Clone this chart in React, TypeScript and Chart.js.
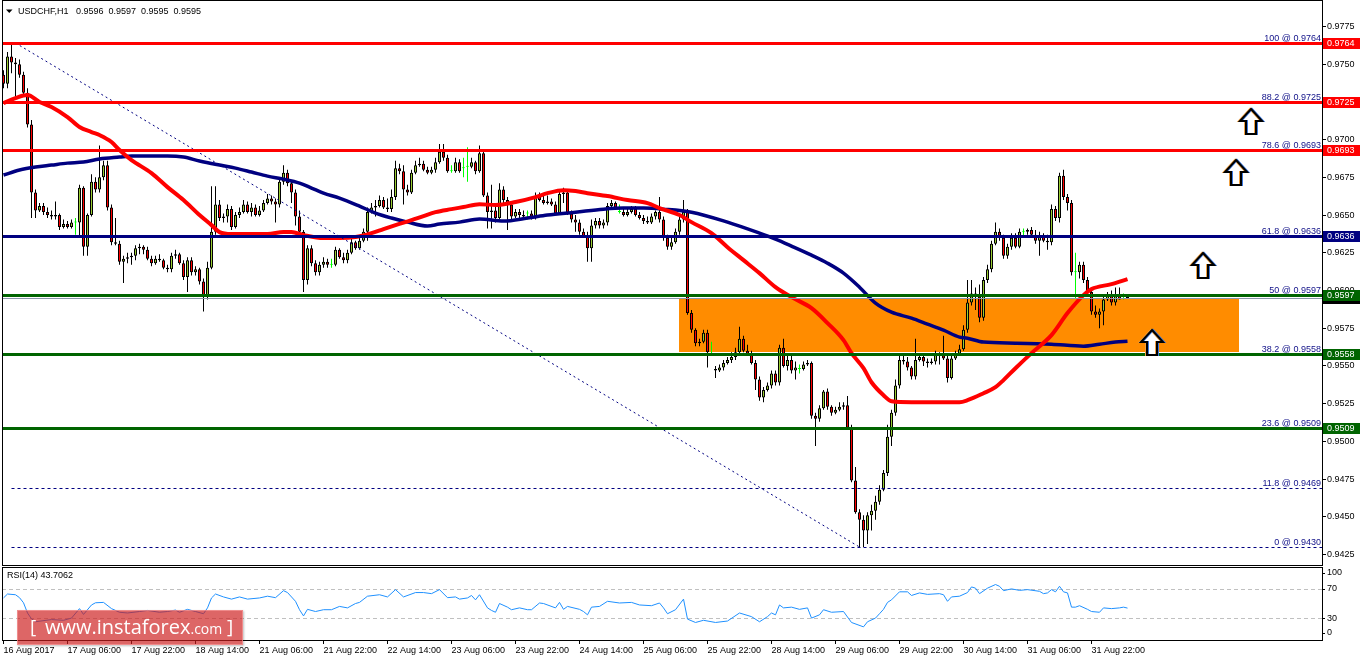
import React, { useEffect, useRef } from "react";
import { Chart, registerables } from "chart.js";

Chart.register(...registerables);

// ---------------- DATA ----------------
const symbolLabel = "USDCHF,H1";

const opens = [
  0.9743,0.9737,0.9755,0.9751,0.9750,0.9743,0.9731,0.9710,0.9665,0.9653,
  0.9656,0.9652,0.9650,0.9649,0.9650,0.9642,0.9644,0.9642,0.9645,0.9645,
  0.9668,0.9629,0.9650,0.9672,0.9667,0.9675,0.9683,0.9655,0.9632,0.9631,
  0.9619,0.9621,0.9622,0.9623,0.9628,0.9629,0.9627,0.9621,0.9618,0.9621,
  0.9620,0.9615,0.9614,0.9623,0.9624,0.9618,0.9609,0.9620,0.9612,0.9614,
  0.9606,0.9597,0.9615,0.9639,0.9657,0.9648,0.9649,0.9654,0.9642,0.9650,
  0.9652,0.9657,0.9652,0.9655,0.9650,0.9653,0.9658,0.9661,0.9659,0.9657,
  0.9672,0.9678,0.9671,0.9665,0.9649,0.9639,0.9607,0.9628,0.9618,0.9612,
  0.9617,0.9619,0.9617,0.9617,0.9627,0.9622,0.9620,0.9625,0.9632,0.9628,
  0.9633,0.9639,0.9652,0.9655,0.9656,0.9660,0.9655,0.9654,0.9662,0.9681,
  0.9679,0.9667,0.9665,0.9678,0.9683,0.9684,0.9680,0.9678,0.9680,0.9685,
  0.9692,0.9688,0.9679,0.9679,0.9685,0.9681,0.9682,0.9682,0.9685,0.9679,
  0.9691,0.9663,0.9652,0.9653,0.9648,0.9667,0.9660,0.9657,0.9649,0.9652,
  0.9650,0.9651,0.9651,0.9649,0.9662,0.9660,0.9658,0.9659,0.9657,0.9651,
  0.9664,0.9665,0.9651,0.9647,0.9645,0.9639,0.9636,0.9628,0.9643,0.9646,
  0.9643,0.9645,0.9656,0.9658,0.9652,0.9652,0.9650,0.9652,0.9654,0.9650,
  0.9648,0.9646,0.9645,0.9649,0.9652,0.9647,0.9635,0.9629,0.9632,0.9639,
  0.9647,0.9652,0.9585,0.9574,0.9565,0.9566,0.9572,0.9558,0.9548,0.9547,
  0.9549,0.9552,0.9554,0.9556,0.9559,0.9568,0.9560,0.9558,0.9552,0.9541,
  0.9529,0.9534,0.9537,0.9545,0.9539,0.9562,0.9550,0.9554,0.9547,0.9548,
  0.9548,0.9551,0.9552,0.9517,0.9515,0.9522,0.9533,0.9523,0.9519,0.9521,
  0.9523,0.9524,0.9509,0.9474,0.9453,0.9448,0.9441,0.9451,0.9454,0.9460,
  0.9468,0.9479,0.9503,0.9519,0.9537,0.9554,0.9553,0.9549,0.9543,0.9554,
  0.9556,0.9553,0.9552,0.9553,0.9558,0.9557,0.9555,0.9542,0.9555,0.9558,
  0.9561,0.9574,0.9592,0.9598,0.9596,0.9582,0.9607,0.9614,0.9631,0.9639,
  0.9635,0.9623,0.9629,0.9635,0.9629,0.9639,0.9639,0.9640,0.9637,0.9633,
  0.9636,0.9633,0.9632,0.9654,0.9648,0.9676,0.9662,0.9658,0.9612,0.9612,
  0.9617,0.9607,0.9599,0.9586,0.9584,0.9586,0.9594,0.9597,0.9592,0.9597,
  0.9596,0.9596,
];

const highs = [
  0.9746,0.9758,0.9764,0.9754,0.9753,0.9745,0.9734,0.9713,0.9667,0.9658,
  0.9658,0.9655,0.9653,0.9659,0.9651,0.9647,0.9646,0.9647,0.9648,0.9670,
  0.9669,0.9651,0.9677,0.9675,0.9696,0.9686,0.9686,0.9657,0.9648,0.9633,
  0.9623,0.9625,0.9625,0.9630,0.9631,0.9630,0.9629,0.9623,0.9623,0.9624,
  0.9621,0.9617,0.9625,0.9627,0.9625,0.9620,0.9622,0.9622,0.9616,0.9615,
  0.9608,0.9619,0.9669,0.9669,0.9660,0.9651,0.9657,0.9656,0.9652,0.9655,
  0.9660,0.9659,0.9658,0.9657,0.9656,0.9660,0.9664,0.9663,0.9661,0.9675,
  0.9683,0.9680,0.9673,0.9667,0.9653,0.9640,0.9630,0.9630,0.9620,0.9619,
  0.9622,0.9621,0.9621,0.9629,0.9628,0.9625,0.9627,0.9635,0.9633,0.9636,
  0.9641,0.9655,0.9658,0.9660,0.9663,0.9662,0.9661,0.9667,0.9686,0.9684,
  0.9683,0.9670,0.9680,0.9686,0.9688,0.9686,0.9682,0.9682,0.9688,0.9697,
  0.9697,0.9690,0.9683,0.9688,0.9687,0.9688,0.9695,0.9688,0.9686,0.9696,
  0.9693,0.9665,0.9670,0.9657,0.9671,0.9669,0.9662,0.9658,0.9654,0.9654,
  0.9653,0.9653,0.9653,0.9665,0.9665,0.9663,0.9663,0.9661,0.9659,0.9667,
  0.9668,0.9667,0.9653,0.9650,0.9647,0.9641,0.9639,0.9647,0.9648,0.9648,
  0.9647,0.9658,0.9660,0.9659,0.9657,0.9654,0.9654,0.9656,0.9656,0.9652,
  0.9650,0.9649,0.9651,0.9653,0.9662,0.9649,0.9637,0.9635,0.9641,0.9649,
  0.9660,0.9654,0.9587,0.9575,0.9568,0.9574,0.9574,0.9566,0.9550,0.9551,
  0.9554,0.9556,0.9559,0.9562,0.9576,0.9570,0.9564,0.9560,0.9554,0.9543,
  0.9536,0.9539,0.9547,0.9547,0.9564,0.9568,0.9557,0.9557,0.9553,0.9551,
  0.9553,0.9554,0.9553,0.9519,0.9524,0.9534,0.9535,0.9524,0.9523,0.9526,
  0.9526,0.9530,0.9511,0.9483,0.9455,0.9451,0.9453,0.9458,0.9464,0.9471,
  0.9481,0.9511,0.9521,0.9541,0.9557,0.9558,0.9556,0.9550,0.9568,0.9558,
  0.9558,0.9555,0.9555,0.9560,0.9559,0.9570,0.9557,0.9557,0.9560,0.9564,
  0.9577,0.9607,0.9607,0.9602,0.9604,0.9609,0.9617,0.9633,0.9645,0.9641,
  0.9637,0.9631,0.9638,0.9638,0.9641,0.9641,0.9641,0.9642,0.9640,0.9639,
  0.9638,0.9637,0.9657,0.9656,0.9678,0.9680,0.9664,0.9660,0.9625,0.9619,
  0.9619,0.9609,0.9600,0.9590,0.9588,0.9596,0.9599,0.9600,0.9602,0.9602,
  0.9598,0.9597,
];

const lows = [
  0.9734,0.9734,0.9744,0.9728,0.9741,0.9730,0.9708,0.9648,0.9648,0.9652,
  0.9650,0.9648,0.9647,0.9647,0.9640,0.9641,0.9641,0.9641,0.9637,0.9635,
  0.9623,0.9623,0.9649,0.9665,0.9665,0.9673,0.9653,0.9630,0.9630,0.9617,
  0.9605,0.9618,0.9617,0.9620,0.9624,0.9624,0.9620,0.9616,0.9617,0.9619,
  0.9614,0.9612,0.9612,0.9621,0.9617,0.9607,0.9599,0.9610,0.9610,0.9604,
  0.9586,0.9594,0.9614,0.9637,0.9646,0.9645,0.9645,0.9640,0.9641,0.9648,
  0.9651,0.9651,0.9649,0.9649,0.9649,0.9652,0.9657,0.9657,0.9645,0.9655,
  0.9670,0.9669,0.9658,0.9643,0.9636,0.9599,0.9604,0.9616,0.9610,0.9610,
  0.9615,0.9615,0.9615,0.9616,0.9621,0.9618,0.9618,0.9624,0.9627,0.9627,
  0.9632,0.9633,0.9651,0.9649,0.9655,0.9654,0.9652,0.9652,0.9660,0.9677,
  0.9657,0.9663,0.9664,0.9677,0.9682,0.9679,0.9677,0.9677,0.9678,0.9684,
  0.9686,0.9678,0.9678,0.9678,0.9678,0.9675,0.9672,0.9681,0.9677,0.9678,
  0.9662,0.9641,0.9641,0.9645,0.9647,0.9658,0.9640,0.9647,0.9648,0.9648,
  0.9647,0.9647,0.9647,0.9647,0.9659,0.9657,0.9657,0.9656,0.9650,0.9650,
  0.9658,0.9650,0.9645,0.9639,0.9637,0.9635,0.9619,0.9619,0.9641,0.9641,
  0.9641,0.9643,0.9655,0.9654,0.9651,0.9649,0.9649,0.9651,0.9649,0.9647,
  0.9644,0.9644,0.9644,0.9647,0.9645,0.9633,0.9627,0.9627,0.9631,0.9637,
  0.9645,0.9584,0.9572,0.9563,0.9563,0.9565,0.9549,0.9557,0.9542,0.9546,
  0.9547,0.9551,0.9552,0.9554,0.9558,0.9559,0.9557,0.9551,0.9534,0.9527,
  0.9526,0.9533,0.9535,0.9537,0.9537,0.9549,0.9547,0.9545,0.9541,0.9545,
  0.9547,0.9550,0.9515,0.9497,0.9513,0.9521,0.9521,0.9517,0.9518,0.9520,
  0.9521,0.9508,0.9473,0.9452,0.9430,0.9430,0.9432,0.9441,0.9448,0.9458,
  0.9467,0.9477,0.9497,0.9517,0.9535,0.9551,0.9547,0.9541,0.9541,0.9553,
  0.9550,0.9549,0.9551,0.9551,0.9551,0.9554,0.9539,0.9541,0.9554,0.9557,
  0.9560,0.9572,0.9590,0.9587,0.9579,0.9580,0.9605,0.9612,0.9630,0.9633,
  0.9621,0.9621,0.9627,0.9628,0.9628,0.9636,0.9637,0.9635,0.9631,0.9623,
  0.9632,0.9627,0.9630,0.9646,0.9645,0.9660,0.9653,0.9610,0.9595,0.9608,
  0.9605,0.9597,0.9584,0.9582,0.9575,0.9577,0.9593,0.9590,0.9590,0.9594,
  0.9594,0.9595,
];

const closes = [
  0.9737,0.9755,0.9751,0.9750,0.9743,0.9731,0.9710,0.9665,0.9653,0.9656,
  0.9652,0.9650,0.9649,0.9650,0.9642,0.9644,0.9642,0.9645,0.9645,0.9668,
  0.9629,0.9650,0.9672,0.9667,0.9675,0.9683,0.9655,0.9632,0.9631,0.9619,
  0.9621,0.9622,0.9623,0.9628,0.9629,0.9627,0.9621,0.9618,0.9621,0.9620,
  0.9615,0.9614,0.9623,0.9624,0.9618,0.9609,0.9620,0.9612,0.9614,0.9606,
  0.9597,0.9615,0.9639,0.9657,0.9648,0.9649,0.9654,0.9642,0.9650,0.9652,
  0.9657,0.9652,0.9655,0.9650,0.9653,0.9658,0.9661,0.9659,0.9657,0.9672,
  0.9678,0.9671,0.9665,0.9649,0.9639,0.9607,0.9628,0.9618,0.9612,0.9617,
  0.9619,0.9617,0.9617,0.9627,0.9622,0.9620,0.9625,0.9632,0.9628,0.9633,
  0.9639,0.9652,0.9655,0.9656,0.9660,0.9655,0.9654,0.9662,0.9681,0.9679,
  0.9667,0.9665,0.9678,0.9683,0.9684,0.9680,0.9678,0.9680,0.9685,0.9692,
  0.9688,0.9679,0.9679,0.9685,0.9679,0.9681,0.9682,0.9685,0.9679,0.9691,
  0.9663,0.9652,0.9653,0.9648,0.9667,0.9660,0.9657,0.9649,0.9652,0.9650,
  0.9649,0.9651,0.9649,0.9662,0.9660,0.9658,0.9659,0.9657,0.9651,0.9664,
  0.9665,0.9651,0.9647,0.9645,0.9639,0.9636,0.9628,0.9643,0.9646,0.9643,
  0.9645,0.9656,0.9658,0.9655,0.9652,0.9650,0.9652,0.9654,0.9650,0.9648,
  0.9646,0.9645,0.9649,0.9652,0.9647,0.9635,0.9629,0.9632,0.9639,0.9647,
  0.9652,0.9585,0.9574,0.9565,0.9566,0.9572,0.9559,0.9558,0.9547,0.9549,
  0.9552,0.9554,0.9556,0.9559,0.9568,0.9560,0.9558,0.9552,0.9541,0.9529,
  0.9534,0.9537,0.9545,0.9539,0.9562,0.9550,0.9554,0.9547,0.9549,0.9548,
  0.9551,0.9552,0.9517,0.9515,0.9522,0.9533,0.9523,0.9519,0.9521,0.9523,
  0.9524,0.9509,0.9474,0.9453,0.9448,0.9441,0.9451,0.9454,0.9460,0.9468,
  0.9479,0.9503,0.9519,0.9537,0.9554,0.9553,0.9549,0.9543,0.9554,0.9556,
  0.9553,0.9552,0.9553,0.9558,0.9557,0.9555,0.9542,0.9555,0.9558,0.9561,
  0.9574,0.9592,0.9598,0.9596,0.9582,0.9607,0.9614,0.9631,0.9639,0.9635,
  0.9623,0.9629,0.9635,0.9629,0.9639,0.9639,0.9640,0.9637,0.9633,0.9636,
  0.9633,0.9632,0.9654,0.9648,0.9676,0.9662,0.9658,0.9612,0.9612,0.9617,
  0.9607,0.9599,0.9586,0.9584,0.9586,0.9594,0.9597,0.9592,0.9597,0.9594,
  0.9596,0.9595,
];

// moving averages: [bar, price]
const redMaSamples = [
  [0,0.97242],[3,0.97275],[6,0.97295],[9,0.97249],[12,0.97216],[16,0.97149],[19,0.97083],[22,0.97050],
  [24,0.97030],[27,0.96984],[29,0.96931],[32,0.96864],[37,0.96778],[41,0.96685],[45,0.96599],[49,0.96500],
  [52,0.96433],[54,0.96387],[57,0.96374],[62,0.96374],[66,0.96374],[70,0.96387],[72,0.96387],[75,0.96367],
  [80,0.96347],[84,0.96347],[88,0.96354],[92,0.96380],[95,0.96407],[98,0.96433],[102,0.96466],[105,0.96493],
  [108,0.96519],[112,0.96539],[115,0.96553],[119,0.96572],[123,0.96566],[128,0.96586],[133,0.96619],[136,0.96645],
  [140,0.96665],[143,0.96659],[146,0.96645],[151,0.96626],[156,0.96599],[161,0.96579],[164,0.96546],[169,0.96500],
  [172,0.96453],[177,0.96380],[181,0.96287],[185,0.96201],[189,0.96115],[193,0.96022],[197,0.95956],[202,0.95883],
  [206,0.95784],[210,0.95671],[212,0.95585],[215,0.95485],[217,0.95392],[220,0.95306],[222,0.95266],[227,0.95260],
  [232,0.95260],[239,0.95260],[241,0.95273],[245,0.95319],[248,0.95359],[250,0.95406],[253,0.95485],[257,0.95585],
  [262,0.95704],[266,0.95850],[270,0.95969],[272,0.96009],[277,0.96042],[281,0.96075],
];

const navyMaSamples = [
  [0,0.96765],[4,0.96798],[8,0.96818],[12,0.96831],[16,0.96844],[20,0.96851],[24,0.96871],[29,0.96884],
  [32,0.96891],[41,0.96891],[45,0.96884],[49,0.96858],[54,0.96831],[58,0.96811],[62,0.96785],[66,0.96758],
  [70,0.96738],[74,0.96712],[77,0.96679],[80,0.96645],[84,0.96612],[89,0.96559],[93,0.96513],[97,0.96480],
  [101,0.96453],[106,0.96427],[109,0.96440],[114,0.96453],[119,0.96473],[125,0.96460],[131,0.96480],[136,0.96500],
  [143,0.96519],[150,0.96539],[155,0.96546],[160,0.96546],[165,0.96539],[172,0.96519],[181,0.96453],[189,0.96380],
  [193,0.96340],[197,0.96294],[202,0.96234],[206,0.96181],[210,0.96115],[214,0.96022],[218,0.95916],[222,0.95856],
  [227,0.95817],[231,0.95777],[235,0.95737],[239,0.95691],[241,0.95684],[245,0.95658],[253,0.95651],[262,0.95644],
  [270,0.95631],[274,0.95644],[278,0.95658],[281,0.95664],
];

// RSI(14): [bar, value]
const rsiSamples = [
  [0,57.6],[1,63],[3,62],[4,58],[5,51],[6,37],[7,29],[8,25],[12,28],[15,27],[17,30],[19,43],[20,35],[22,48],
  [23,51],[25,51.5],[27,43],[29,38],[31,37],[34,39],[36,40.5],[39,38],[41,39],[43,41],[44,38],[46,42],[48,39],
  [50,36],[51,44],[52,57.6],[53,63],[55,59],[57,56],[59,59],[61,56],[64,57.6],[66,60],[68,58],[70,67.6],[71,65],
  [73,53],[74,41.5],[75,33],[76,42],[78,39],[80,41.5],[82,41.5],[84,46],[86,44],[88,50],[89,51.5],[91,60],[94,62],
  [96,59],[98,69],[100,59],[103,65],[105,65],[107,63.5],[109,69],[111,58],[113,59],[114,56],[116,57.6],[117,61],
  [118,55],[119,62],[121,44],[122,40.5],[123,38],[124,50],[126,45],[127,41.5],[129,44],[131,41.5],[132,41.5],
  [134,50.7],[135,50],[138,44],[139,51.5],[140,42],[141,46],[144,42],[145,39],[146,34.5],[147,45],[149,46],[151,53],
  [154,50.7],[157,51.5],[159,48],[162,47],[164,50.7],[165,44],[166,36],[168,41.5],[170,56],[171,28.6],[173,24],
  [175,27],[178,24],[181,26],[184,37],[187,32],[189,25],[191,32],[192,37],[193,34.5],[194,48],[195,44],[197,45],
  [199,42],[201,44],[202,30],[204,34.5],[205,41.5],[207,38],[210,39],[212,24],[215,18],[216,25],[218,30],[219,36],
  [220,42],[221,51.5],[222,55],[224,66],[226,66],[227,61],[229,64.5],[231,62.5],[234,63.5],[235,62],[236,53],
  [237,59],[239,60],[241,65],[242,72.7],[243,71],[244,63.5],[246,71],[248,76],[249,73.6],[250,67.6],[252,70],
  [254,68],[256,69],[259,66.7],[260,63.5],[261,64.5],[262,69],[263,66],[264,73.6],[265,66],[266,64.5],[267,45],
  [268,45],[269,47],[271,42],[272,39],[274,38],[275,44],[277,43],[279,44],[280,45],[281,43.7062],
];

const priceTicks = [
  0.9425,0.9450,0.9475,0.9500,0.9525,0.9550,0.9575,0.9600,0.9625,0.9650,0.9675,0.9700,0.9725,0.9750,0.9775,
];
const rsiTicks = [100, 70, 30, 0];
const rsiLevels = [70, 30];

const timeTickBars = [0,16,32,48,64,80,96,112,128,144,160,176,192,208,224,240,256,272];
const timeTickLabels = [
  "16 Aug 2017","17 Aug 06:00","17 Aug 22:00","18 Aug 14:00","21 Aug 06:00","21 Aug 22:00",
  "22 Aug 14:00","23 Aug 06:00","23 Aug 22:00","24 Aug 14:00","25 Aug 06:00","25 Aug 22:00",
  "28 Aug 14:00","29 Aug 06:00","29 Aug 22:00","30 Aug 14:00","31 Aug 06:00","31 Aug 22:00",
];

const fibPercents = ["100","88.2","78.6","61.8","50","38.2","23.6","11.8","0"];
const fibPrices = [0.9764,0.9725,0.9693,0.9636,0.9597,0.9558,0.9509,0.9469,0.9430];
const fibStartBar = 2;

const levelPrices = [0.9764,0.9725,0.9693,0.9636,0.9597,0.9558,0.9509];
const levelColors = ["#FF0000","#FF0000","#FF0000","#000080","#006400","#006400","#006400"];
const bidPrice = 0.9595;

const trendBars = [3, 214];
const trendPrices = [0.9764, 0.9430];

const zoneBars = [168.9, 308.8];
const zonePrices = [0.95942, 0.95594];

const arrowBars = [311.9, 308.0, 299.9, 287.1];
const arrowPrices = [0.97206, 0.96871, 0.96252, 0.95748];

// ---------------- RENDERING ----------------
const FONT = '"Liberation Sans", Arial, sans-serif';
const X_MIN = -0.375;
const X_MAX = 329.625;
const PRICE_MIN = 0.941808;
const PRICE_MAX = 0.97925;

const crisp = (v: number) => Math.round(v) + 0.5;

function drawArrow(ctx: CanvasRenderingContext2D, cx: number, top: number) {
  const pts = [[0, 0], [11, 12], [5, 12], [5, 25], [-5, 25], [-5, 12], [-11, 12]];
  const path = (dx: number) => {
    ctx.beginPath();
    pts.forEach(([x, y], i) => {
      if (i === 0) ctx.moveTo(cx + x + dx, top + y);
      else ctx.lineTo(cx + x + dx, top + y);
    });
    ctx.closePath();
  };
  ctx.save();
  ctx.lineWidth = 2;
  ctx.lineJoin = "miter";
  path(0);
  ctx.fillStyle = "#FFFFFF";
  ctx.fill();
  ctx.strokeStyle = "#F0A040";
  path(-1);
  ctx.stroke();
  ctx.strokeStyle = "#3A78E0";
  path(1);
  ctx.stroke();
  ctx.strokeStyle = "#000000";
  path(0);
  ctx.stroke();
  ctx.restore();
}

const mainOverlay = {
  id: "mainOverlay",
  beforeDatasetsDraw(chart: any) {
    const { ctx, chartArea: a, scales } = chart;
    const x = scales.x, y = scales.y;
    ctx.save();
    ctx.beginPath();
    ctx.rect(a.left, a.top, a.right - a.left, a.bottom - a.top);
    ctx.clip();
    const x1 = Math.round(x.getPixelForValue(zoneBars[0]));
    const x2 = Math.round(x.getPixelForValue(zoneBars[1]));
    const y1 = Math.round(y.getPixelForValue(zonePrices[0]));
    const y2 = Math.round(y.getPixelForValue(zonePrices[1]));
    ctx.fillStyle = "#FF8C00";
    ctx.fillRect(x1, y1, x2 - x1, y2 - y1);
    ctx.restore();
  },
  afterDatasetsDraw(chart: any) {
    const { ctx, chartArea: a, scales } = chart;
    const x = scales.x, y = scales.y;
    ctx.save();
    ctx.beginPath();
    ctx.rect(a.left, a.top, a.right - a.left, a.bottom - a.top);
    ctx.clip();

    // fibonacci dashed levels
    ctx.strokeStyle = "#000080";
    ctx.lineWidth = 1;
    ctx.setLineDash([3, 3]);
    const fx = x.getPixelForValue(fibStartBar);
    fibPrices.forEach((p) => {
      const py = crisp(y.getPixelForValue(p));
      ctx.beginPath();
      ctx.moveTo(fx, py);
      ctx.lineTo(a.right, py);
      ctx.stroke();
    });
    // trend line
    ctx.setLineDash([2, 3]);
    ctx.beginPath();
    ctx.moveTo(x.getPixelForValue(trendBars[0]), y.getPixelForValue(trendPrices[0]));
    ctx.lineTo(x.getPixelForValue(trendBars[1]), y.getPixelForValue(trendPrices[1]));
    ctx.stroke();
    ctx.setLineDash([]);

    // bid line
    ctx.strokeStyle = "#8896A8";
    ctx.lineWidth = 1;
    const by = crisp(y.getPixelForValue(bidPrice));
    ctx.beginPath();
    ctx.moveTo(a.left, by);
    ctx.lineTo(a.right, by);
    ctx.stroke();

    // thick horizontal levels
    ctx.lineWidth = 3;
    levelPrices.forEach((p, i) => {
      const py = crisp(y.getPixelForValue(p));
      ctx.strokeStyle = levelColors[i];
      ctx.beginPath();
      ctx.moveTo(a.left, py);
      ctx.lineTo(a.right, py);
      ctx.stroke();
    });

    // fib labels
    ctx.font = `9px ${FONT}`;
    ctx.fillStyle = "#101088";
    ctx.textAlign = "right";
    ctx.textBaseline = "alphabetic";
    fibPrices.forEach((p, i) => {
      const py = crisp(y.getPixelForValue(p));
      ctx.fillText(`${fibPercents[i]} @ ${p.toFixed(4)}`, a.right - 1, py - 2.5);
    });

    // arrows
    arrowBars.forEach((b, i) => {
      drawArrow(ctx, Math.round(x.getPixelForValue(b)), Math.round(y.getPixelForValue(arrowPrices[i])) + 1);
    });

    // header
    const last = closes.length - 1;
    ctx.fillStyle = "#000";
    ctx.beginPath();
    ctx.moveTo(6, 9.5);
    ctx.lineTo(12.5, 9.5);
    ctx.lineTo(9.25, 13);
    ctx.closePath();
    ctx.fill();
    ctx.textAlign = "left";
    ctx.font = `9px ${FONT}`;
    ctx.fillText(
      `${symbolLabel}   ${opens[last].toFixed(4)}  ${highs[last].toFixed(4)}  ${lows[last].toFixed(4)}  ${closes[last].toFixed(4)}`,
      18,
      14
    );
    ctx.restore();
  },
  afterDraw(chart: any) {
    const { ctx, chartArea: a, scales } = chart;
    const y = scales.y;
    ctx.save();
    const drawBox = (price: number, color: string) => {
      const cy = Math.round(y.getPixelForValue(price));
      ctx.fillStyle = color;
      ctx.fillRect(a.right + 1, cy - 5, 37, 11);
      ctx.fillStyle = "#FFFFFF";
      ctx.font = `9px ${FONT}`;
      ctx.textAlign = "left";
      ctx.textBaseline = "middle";
      ctx.fillText(price.toFixed(4), a.right + 5, cy + 0.5);
    };
    drawBox(bidPrice, "#000000");
    levelPrices.forEach((p, i) => drawBox(p, levelColors[i]));
    ctx.strokeStyle = "#000";
    ctx.lineWidth = 1;
    ctx.strokeRect(a.left + 0.5, a.top + 0.5, a.right - a.left, a.bottom - a.top);
    ctx.restore();
  },
};

const rsiOverlay = {
  id: "rsiOverlay",
  beforeDatasetsDraw(chart: any) {
    const { ctx, chartArea: a, scales } = chart;
    const y = scales.y;
    ctx.save();
    ctx.strokeStyle = "#C0C0C0";
    ctx.lineWidth = 1;
    ctx.setLineDash([4, 3]);
    rsiLevels.forEach((v) => {
      const py = crisp(y.getPixelForValue(v));
      ctx.beginPath();
      ctx.moveTo(a.left, py);
      ctx.lineTo(a.right, py);
      ctx.stroke();
    });
    ctx.restore();
  },
  afterDraw(chart: any) {
    const { ctx, chartArea: a, scales } = chart;
    const y = scales.y;
    ctx.save();
    ctx.strokeStyle = "#000";
    ctx.lineWidth = 1;
    ctx.strokeRect(a.left + 0.5, a.top + 0.5, a.right - a.left, a.bottom - a.top);
    ctx.font = `9px ${FONT}`;
    ctx.fillStyle = "#000";
    ctx.textAlign = "left";
    ctx.textBaseline = "middle";
    rsiTicks.forEach((v) => {
      const raw = y.getPixelForValue(v);
      const py = Math.min(Math.max(raw, a.top + 6), a.bottom - 7);
      ctx.fillText(String(v), a.right + 5, py);
      ctx.beginPath();
      ctx.moveTo(a.right, crisp(py));
      ctx.lineTo(a.right + 3, crisp(py));
      ctx.stroke();
    });
    const lastRsi = rsiSamples[rsiSamples.length - 1][1];
    ctx.textBaseline = "alphabetic";
    ctx.fillText(`RSI(14) ${lastRsi.toFixed(4)}`, 7, 12);
    ctx.restore();
  },
};

function isDoji(i: number) {
  return opens[i] === closes[i];
}

export default function App() {
  const mainRef = useRef<HTMLCanvasElement>(null);
  const rsiRef = useRef<HTMLCanvasElement>(null);

  useEffect(() => {
    const main = new Chart(mainRef.current as HTMLCanvasElement, {
      type: "bar",
      data: {
        datasets: [
          {
            type: "line",
            label: "MA fast",
            data: redMaSamples.map(([b, v]) => ({ x: b, y: v })),
            borderColor: "#FF0000",
            borderWidth: 4,
            pointRadius: 0,
            cubicInterpolationMode: "monotone",
            order: 0,
          } as any,
          {
            type: "line",
            label: "MA slow",
            data: navyMaSamples.map(([b, v]) => ({ x: b, y: v })),
            borderColor: "#000080",
            borderWidth: 3.5,
            pointRadius: 0,
            cubicInterpolationMode: "monotone",
            order: 1,
          } as any,
          {
            type: "bar",
            label: "body",
            data: opens.map((o, i) => ({ x: i, y: [o, closes[i]] })),
            backgroundColor: (c: any) =>
              isDoji(c.dataIndex) ? "#00FF00" : closes[c.dataIndex] > opens[c.dataIndex] ? "#9ACD32" : "#FF0000",
            borderColor: (c: any) => (isDoji(c.dataIndex) ? "#00FF00" : "#000000"),
            borderWidth: 1,
            borderSkipped: false,
            barPercentage: 1,
            categoryPercentage: 1,
            maxBarThickness: 3,
            minBarLength: 1,
            grouped: false,
            inflateAmount: 0,
            order: 2,
          } as any,
          {
            type: "bar",
            label: "wick",
            data: lows.map((l, i) => ({ x: i, y: [l, highs[i]] })),
            backgroundColor: (c: any) => (isDoji(c.dataIndex) ? "#00FF00" : "#000000"),
            borderWidth: 0,
            barPercentage: 1,
            categoryPercentage: 1,
            maxBarThickness: 1,
            grouped: false,
            inflateAmount: 0,
            order: 3,
          } as any,
        ],
      },
      options: {
        animation: false,
        responsive: false,
        maintainAspectRatio: false,
        events: [],
        layout: { padding: { left: 2, top: 0, right: 0, bottom: 1 } },
        plugins: { legend: { display: false }, tooltip: { enabled: false } },
        scales: {
          x: { type: "linear", min: X_MIN, max: X_MAX, offset: false, display: false },
          y: {
            type: "linear",
            position: "right",
            min: PRICE_MIN,
            max: PRICE_MAX,
            afterBuildTicks: (s: any) => {
              s.ticks = priceTicks.map((v) => ({ value: v }));
            },
            afterFit: (s: any) => {
              s.width = 40;
              s.paddingTop = 0;
              s.paddingBottom = 0;
            },
            ticks: {
              font: { family: FONT, size: 9 },
              color: "#000",
              padding: 1,
              callback: (v: any) => Number(v).toFixed(4),
            },
            grid: { drawOnChartArea: false, drawTicks: true, tickLength: 4, color: "#000" },
            border: { display: true, color: "#000" },
          },
        },
      } as any,
      plugins: [mainOverlay],
    });

    const rsi = new Chart(rsiRef.current as HTMLCanvasElement, {
      type: "line",
      data: {
        datasets: [
          {
            label: "RSI(14)",
            data: rsiSamples.map(([b, v]) => ({ x: b, y: v })),
            borderColor: "#1E90FF",
            borderWidth: 1,
            pointRadius: 0,
            tension: 0,
          },
        ],
      },
      options: {
        animation: false,
        responsive: false,
        maintainAspectRatio: false,
        events: [],
        layout: { padding: { left: 2, top: 1, right: 40, bottom: 0 } },
        plugins: { legend: { display: false }, tooltip: { enabled: false } },
        scales: {
          x: {
            type: "linear",
            min: X_MIN,
            max: X_MAX,
            offset: false,
            afterBuildTicks: (s: any) => {
              s.ticks = timeTickBars.map((v) => ({ value: v }));
            },
            afterFit: (s: any) => {
              s.height = 21;
              s.paddingLeft = 0;
              s.paddingRight = 0;
            },
            ticks: {
              autoSkip: false,
              maxRotation: 0,
              minRotation: 0,
              align: "start",
              font: { family: FONT, size: 9 },
              color: "#000",
              padding: 1,
              callback: (_v: any, i: number) => timeTickLabels[i] ?? "",
            },
            grid: { drawOnChartArea: false, drawTicks: true, tickLength: 4, color: "#000" },
            border: { display: true, color: "#000" },
          },
          y: { type: "linear", min: 0, max: 100, display: false },
        },
      } as any,
      plugins: [rsiOverlay],
    });

    return () => {
      main.destroy();
      rsi.destroy();
    };
  }, []);

  return (
    <div
      style={{
        position: "absolute",
        left: 0,
        top: 0,
        width: 1362,
        height: 661,
        background: "#FFFFFF",
        overflow: "hidden",
      }}
    >
      <canvas
        ref={mainRef}
        width={1362}
        height={566}
        style={{ position: "absolute", left: 0, top: 0, width: 1362, height: 566 }}
      />
      <canvas
        ref={rsiRef}
        width={1362}
        height={95}
        style={{ position: "absolute", left: 0, top: 566, width: 1362, height: 95 }}
      />
      <div
        style={{
          position: "absolute",
          left: 17,
          top: 610,
          width: 226,
          height: 35,
          background: "rgba(205, 30, 30, 0.68)",
          boxShadow: "1px 1px 2px rgba(0,0,0,0.25)",
          border: "1px solid rgba(255,170,170,0.55)",
          boxSizing: "border-box",
          color: "#FFFFFF",
          fontFamily: '"Open Sans", sans-serif',
        }}
      >
        <span style={{ position: "absolute", left: 12, top: 3, fontSize: 19, lineHeight: "24px" }}>[</span>
        <span style={{ position: "absolute", left: 27, top: 4, fontSize: 20, lineHeight: "24px", whiteSpace: "nowrap" }}>
          www.instaforex<span style={{ fontSize: 14 }}>.com</span>
        </span>
        <span style={{ position: "absolute", left: 209, top: 3, fontSize: 19, lineHeight: "24px" }}>]</span>
      </div>
    </div>
  );
}
